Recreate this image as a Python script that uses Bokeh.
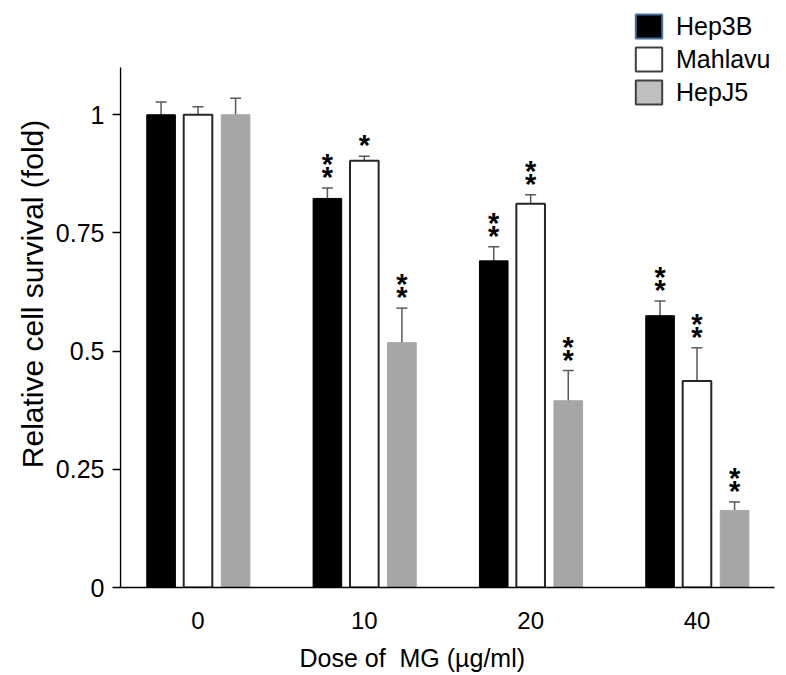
import numpy as np
from bokeh.plotting import figure
from bokeh.models import (ColumnDataSource, Range1d, FixedTicker, Whisker, TeeHead,
                          Legend, LegendItem)
from bokeh.core.properties import value
from bokeh.embed import file_html
from bokeh.resources import INLINE

# ---------------- data ----------------
doses = ["0", "10", "20", "40"]
series_names = ["Hep3B", "Mahlavu", "HepJ5"]
hep3b = [1.0, 0.823, 0.691, 0.575]
hep3b_err = [0.027, 0.022, 0.030, 0.031]
mahlavu = [1.0, 0.903, 0.812, 0.437]
mahlavu_err = [0.017, 0.009, 0.019, 0.070]
hepj5 = [1.0, 0.518, 0.395, 0.163]
hepj5_err = [0.035, 0.073, 0.064, 0.018]
hep3b_sig = ["", "**", "**", "**"]
mahlavu_sig = ["", "*", "**", "**"]
hepj5_sig = ["", "**", "**", "**"]
y_ticks = [0, 0.25, 0.5, 0.75, 1]
y_tick_labels = ["0", "0.25", "0.5", "0.75", "1"]
y_axis_max = 1.1

FONT = "Liberation Sans"

# layout (pixels)
W, H = 786, 675
frame_left, frame_right, frame_bottom = 119, 774, 587
axis_top_px = 67
y_end = y_axis_max * frame_bottom / (frame_bottom - axis_top_px)
x_start, x_end = -0.472, 3.466
axis_x = -0.466

p = figure(width=W, height=H, output_backend="svg", toolbar_location=None,
           x_range=Range1d(x_start, x_end), y_range=Range1d(0, y_end),
           min_border_left=frame_left, min_border_right=W - frame_right,
           min_border_top=0, min_border_bottom=H - frame_bottom)
p.outline_line_color = None
p.xgrid.visible = False
p.ygrid.visible = False
p.background_fill_color = "white"

offsets = [-0.222, 0.0, 0.226]
bar_w = 0.172
styles = [
    dict(fill_color="#000000", line_color="#000000", line_width=1),
    dict(fill_color="#ffffff", line_color="#262626", line_width=2),
    dict(fill_color="#a6a6a6", line_color="#a6a6a6", line_width=1),
]
legend_styles = [
    dict(fill_color="#000000", line_color="#41719c", line_width=2),
    dict(fill_color="#ffffff", line_color="#404040", line_width=2),
    dict(fill_color="#bfbfbf", line_color="#404040", line_width=2),
]
vals = [hep3b, mahlavu, hepj5]
errs = [hep3b_err, mahlavu_err, hepj5_err]
sigs = [hep3b_sig, mahlavu_sig, hepj5_sig]

# y axis line drawn only up to the axis maximum
p.segment(x0=[axis_x], y0=[0], x1=[axis_x], y1=[y_axis_max],
          line_color="#000000", line_width=1.5)

idx = np.arange(len(doses))
items = []
for name, off, st, lst, v, e, s in zip(series_names, offsets, styles, legend_styles,
                                       vals, errs, sigs):
    v = np.array(v)
    e = np.array(e)
    src = ColumnDataSource(dict(x=idx + off, top=v, upper=v + e, lower=v - e))
    p.vbar(x="x", top="top", width=bar_w, source=src, **st)
    # hidden renderer that only provides the legend swatch style
    lr = p.vbar(x="x", top="top", width=bar_w, source=src, visible=False, **lst)
    items.append(LegendItem(label=name, renderers=[lr]))
    w = Whisker(base="x", upper="upper", lower="lower", source=src,
                line_color="#595959", line_width=1.5,
                upper_head=TeeHead(size=11, line_color="#595959", line_width=1.5),
                lower_head=TeeHead(size=11, line_color="#595959", line_width=1.5))
    p.add_layout(w)
    # significance asterisks
    ax, ay, aoff = [], [], []
    for i, mark in enumerate(s):
        for k in range(len(mark)):
            ax.append(idx[i] + off)
            ay.append(v[i] + e[i])
            aoff.append(-(18 + 13 * k) + 7)
    if ax:
        asrc = ColumnDataSource(dict(x=ax, y=ay, yo=aoff, t=["*"] * len(ax)))
        p.text(x="x", y="y", text="t", y_offset="yo", source=asrc,
               text_font=value(FONT), text_font_size="29px", text_font_style="bold",
               text_align="center", text_baseline="middle", text_color="#000000")

# ---------------- axes ----------------
p.xaxis.ticker = FixedTicker(ticks=list(idx))
p.xaxis.major_label_overrides = {int(i): d for i, d in zip(idx, doses)}
p.xaxis.major_tick_line_color = None
p.xaxis.minor_tick_line_color = None
p.xaxis.axis_line_color = "#000000"
p.xaxis.axis_line_width = 1.5
p.xaxis.major_label_text_font = FONT
p.xaxis.major_label_text_font_size = "24px"
p.xaxis.major_label_text_color = "#000000"
p.xaxis.major_label_standoff = 18
p.xaxis.axis_label = "Dose of\u00a0 MG (\u00b5g/ml)" + "\u00a0" * 10
p.xaxis.axis_label_text_font = FONT
p.xaxis.axis_label_text_font_size = "25px"
p.xaxis.axis_label_text_font_style = "normal"
p.xaxis.axis_label_text_color = "#000000"
p.xaxis.axis_label_standoff = 12

p.yaxis.ticker = FixedTicker(ticks=y_ticks)
p.yaxis.major_label_overrides = {t: l for t, l in zip(y_ticks, y_tick_labels)}
p.yaxis.minor_tick_line_color = None
p.yaxis.major_tick_in = 1
p.yaxis.major_tick_out = 7
p.yaxis.major_tick_line_color = "#000000"
p.yaxis.major_tick_line_width = 1.5
p.yaxis.axis_line_color = None
p.yaxis.major_label_text_font = FONT
p.yaxis.major_label_text_font_size = "25px"
p.yaxis.major_label_text_color = "#000000"
p.yaxis.major_label_standoff = 8
p.yaxis.axis_label = "Relative cell survival (fold)"
p.yaxis.axis_label_text_font = FONT
p.yaxis.axis_label_text_font_size = "30px"
p.yaxis.axis_label_text_font_style = "normal"
p.yaxis.axis_label_text_color = "#000000"
p.yaxis.axis_label_standoff = 4

# ---------------- legend ----------------
legend = Legend(items=items, location=(513, 480), orientation="vertical",
                click_policy="none", inactive_fill_alpha=0,
                glyph_width=33, glyph_height=30, spacing=3, label_standoff=11,
                padding=0, margin=0, border_line_alpha=0, background_fill_alpha=0,
                label_text_font=FONT, label_text_font_size="25px",
                label_text_color="#000000", label_height=30)
p.add_layout(legend)

open("out.html", "w").write(file_html(p, INLINE))
